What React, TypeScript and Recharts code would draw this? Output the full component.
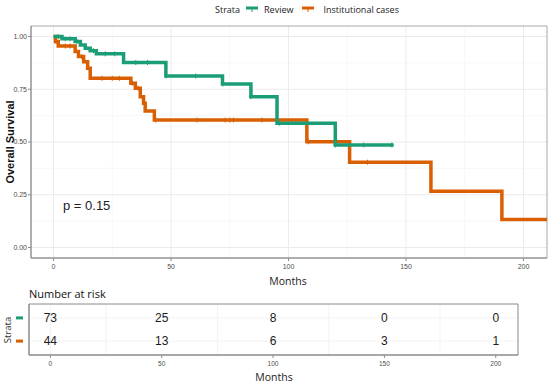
import React from "react";
import {
  ComposedChart,
  Line,
  Scatter,
  XAxis,
  YAxis,
  CartesianGrid,
  ReferenceArea,
} from "recharts";

const GREEN = "#1B9E77";
const ORANGE = "#D95F02";

// Kaplan-Meier steps (months, survival)
const reviewCurve = [
  { t: 0, s: 1 },
  { t: 3.6, s: 0.989 },
  { t: 9.2, s: 0.976 },
  { t: 11.4, s: 0.96 },
  { t: 13.5, s: 0.945 },
  { t: 15.6, s: 0.933 },
  { t: 18.2, s: 0.918 },
  { t: 29.8, s: 0.877 },
  { t: 47.8, s: 0.813 },
  { t: 71.9, s: 0.775 },
  { t: 84, s: 0.715 },
  { t: 95.1, s: 0.589 },
  { t: 119.9, s: 0.486 },
  { t: 144.7, s: 0.486 },
];

const institutionalCurve = [
  { t: 0, s: 1 },
  { t: 0.8, s: 0.977 },
  { t: 2, s: 0.955 },
  { t: 9.2, s: 0.929 },
  { t: 10.6, s: 0.905 },
  { t: 12.8, s: 0.881 },
  { t: 14.5, s: 0.85 },
  { t: 15.6, s: 0.802 },
  { t: 32.9, s: 0.779 },
  { t: 34.8, s: 0.755 },
  { t: 36.9, s: 0.715 },
  { t: 38.3, s: 0.684 },
  { t: 39, s: 0.647 },
  { t: 42.9, s: 0.604 },
  { t: 107.8, s: 0.501 },
  { t: 126, s: 0.404 },
  { t: 160.6, s: 0.267 },
  { t: 190.8, s: 0.133 },
  { t: 210, s: 0.133 },
];

// censored observations
const reviewCensor = [
  { t: 2, s: 1 },
  { t: 5, s: 0.989 },
  { t: 7, s: 0.989 },
  { t: 10, s: 0.976 },
  { t: 17, s: 0.933 },
  { t: 22, s: 0.918 },
  { t: 26, s: 0.918 },
  { t: 35, s: 0.877 },
  { t: 40, s: 0.877 },
  { t: 48, s: 0.813 },
  { t: 60.5, s: 0.813 },
  { t: 72, s: 0.775 },
  { t: 84, s: 0.715 },
  { t: 96, s: 0.589 },
  { t: 120, s: 0.486 },
  { t: 132, s: 0.486 },
  { t: 144, s: 0.486 },
];

const institutionalCensor = [
  { t: 1, s: 0.977 },
  { t: 5, s: 0.955 },
  { t: 7, s: 0.955 },
  { t: 12, s: 0.905 },
  { t: 20.6, s: 0.802 },
  { t: 25, s: 0.802 },
  { t: 28, s: 0.802 },
  { t: 33.5, s: 0.779 },
  { t: 36, s: 0.755 },
  { t: 43.5, s: 0.604 },
  { t: 61, s: 0.604 },
  { t: 73, s: 0.604 },
  { t: 75, s: 0.604 },
  { t: 76.6, s: 0.604 },
  { t: 88.7, s: 0.604 },
  { t: 108.5, s: 0.501 },
  { t: 133.6, s: 0.404 },
];

const riskTimes = [0, 50, 100, 150, 200];
const reviewAtRisk = [73, 25, 8, 0, 0];
const institutionalAtRisk = [44, 13, 6, 3, 1];

const xTicks = [0, 50, 100, 150, 200];
const xMinor = [25, 75, 125, 175];
const yTicks = [0, 0.25, 0.5, 0.75, 1];
const yMinor = [0.125, 0.375, 0.625, 0.875];
const X_DOMAIN: [number, number] = [-9.6, 210];

const reviewRisk = riskTimes.map((t, i) => ({ t, row: 2, n: reviewAtRisk[i] }));
const institutionalRisk = riskTimes.map((t, i) => ({ t, row: 1, n: institutionalAtRisk[i] }));

const tickStyle = { fontSize: 7, fill: "#4D4D4D", fontFamily: "Liberation Sans, Arial, sans-serif" };
const titleFont = "Open Sans, sans-serif";

const plus = (color: string) => (props: any) => {
  const { cx, cy } = props;
  if (cx == null || cy == null) return <g />;
  return (
    <g stroke={color} strokeWidth={1}>
      <line x1={cx - 2} x2={cx + 2} y1={cy} y2={cy} />
      <line x1={cx} x2={cx} y1={cy - 2.5} y2={cy + 2.5} />
    </g>
  );
};

const riskText = (props: any) => {
  const { cx, cy, payload } = props;
  return (
    <text
      x={cx}
      y={cy}
      dy="0.35em"
      textAnchor="middle"
      fontSize={12}
      fill="#1a1a1a"
      fontFamily="Liberation Sans, Arial, sans-serif"
    >
      {payload.n}
    </text>
  );
};

const strataTick = (props: any) => {
  const { y, payload } = props;
  const color = payload.value === 2 ? GREEN : ORANGE;
  return <rect x={16} y={y - 1.5} width={7} height={3} fill={color} />;
};

const LegendKey = ({ color }: { color: string }) => (
  <svg width={12} height={8} style={{ display: "inline-block", verticalAlign: "middle" }}>
    <line x1={0} x2={12} y1={3} y2={3} stroke={color} strokeWidth={3} />
    <line x1={6} x2={6} y1={2} y2={7} stroke={color} strokeWidth={1} />
  </svg>
);

export default function App() {
  return (
    <div
      style={{
        position: "absolute",
        left: 0,
        top: 0,
        width: 550,
        height: 386,
        background: "#fff",
        fontFamily: titleFont,
      }}
    >
      {/* legend */}
      <div
        style={{
          position: "absolute",
          top: 2,
          left: 215,
          fontSize: 9,
          color: "#222",
          display: "flex",
          alignItems: "center",
          whiteSpace: "nowrap",
          height: 14,
        }}
      >
        <span style={{ marginRight: 6 }}>Strata</span>
        <LegendKey color={GREEN} />
        <span style={{ marginLeft: 6, marginRight: 9 }}>Review</span>
        <LegendKey color={ORANGE} />
        <span style={{ marginLeft: 9 }}>Institutional cases</span>
      </div>

      <div style={{ position: "absolute", top: 0, left: 0 }}>
        <ComposedChart width={550} height={270} margin={{ top: 26, right: 3, left: 0, bottom: 0 }}>
          <CartesianGrid
            horizontalValues={yMinor}
            verticalValues={xMinor}
            stroke="#F4F4F4"
            strokeWidth={0.6}
          />
          <CartesianGrid
            horizontalValues={yTicks}
            verticalValues={xTicks}
            stroke="#EBEBEB"
            strokeWidth={1}
          />
          <XAxis
            type="number"
            dataKey="t"
            domain={X_DOMAIN}
            ticks={xTicks}
            allowDataOverflow
            height={12}
            tick={tickStyle}
            tickSize={3}
            tickMargin={3}
            axisLine={{ stroke: "#8a8a8a" }}
            tickLine={{ stroke: "#8a8a8a" }}
          />
          <YAxis
            type="number"
            dataKey="s"
            domain={[-0.05, 1.05]}
            ticks={yTicks}
            allowDataOverflow
            width={31}
            tick={tickStyle}
            tickSize={3}
            tickMargin={1}
            tickFormatter={(v: number) => v.toFixed(2)}
            axisLine={{ stroke: "#8a8a8a" }}
            tickLine={{ stroke: "#8a8a8a" }}
          />
          <ReferenceArea
            x1={X_DOMAIN[0]}
            x2={X_DOMAIN[1]}
            y1={-0.05}
            y2={1.05}
            fill="none"
            stroke="#a8a8a8"
            strokeWidth={1}
          />
          <Line
            data={institutionalCurve}
            dataKey="s"
            type="stepAfter"
            stroke={ORANGE}
            strokeWidth={3.5}
            dot={false}
            activeDot={false}
            isAnimationActive={false}
          />
          <Line
            data={reviewCurve}
            dataKey="s"
            type="stepAfter"
            stroke={GREEN}
            strokeWidth={3.5}
            dot={false}
            activeDot={false}
            isAnimationActive={false}
          />
          <Scatter data={institutionalCensor} dataKey="s" shape={plus(ORANGE)} isAnimationActive={false} />
          <Scatter data={reviewCensor} dataKey="s" shape={plus(GREEN)} isAnimationActive={false} />
        </ComposedChart>
      </div>

      {/* y title */}
      <div
        style={{
          position: "absolute",
          left: 10,
          top: 142,
          transform: "translate(-50%, -50%) rotate(-90deg)",
          fontSize: 11,
          fontWeight: "bold",
          fontFamily: "Liberation Sans, Arial, sans-serif",
          whiteSpace: "nowrap",
          color: "#111",
        }}
      >
        Overall Survival
      </div>

      <div
        style={{
          position: "absolute",
          left: 63,
          top: 198,
          fontSize: 13,
          fontFamily: "Liberation Sans, Arial, sans-serif",
          color: "#222",
        }}
      >
        p = 0.15
      </div>

      <div
        style={{
          position: "absolute",
          left: 288,
          top: 281,
          transform: "translate(-50%, -50%)",
          fontSize: 10.5,
          color: "#222",
        }}
      >
        Months
      </div>

      <div style={{ position: "absolute", left: 29, top: 286, fontSize: 11, color: "#111" }}>
        Number at risk
      </div>

      <div style={{ position: "absolute", top: 290, left: 0 }}>
        <ComposedChart width={550} height={80} margin={{ top: 14, right: 32, left: 0, bottom: 0 }}>
          <CartesianGrid
            horizontalValues={[1, 2]}
            verticalValues={[...xTicks, ...xMinor]}
            stroke="#F0F0F0"
            strokeWidth={0.8}
          />
          <XAxis
            type="number"
            dataKey="t"
            domain={X_DOMAIN}
            ticks={xTicks}
            allowDataOverflow
            height={15}
            tick={{ ...tickStyle, fontSize: 6.5 }}
            tickSize={3}
            tickMargin={3}
            axisLine={{ stroke: "#8a8a8a" }}
            tickLine={{ stroke: "#8a8a8a" }}
          />
          <YAxis
            type="number"
            dataKey="row"
            domain={[0.4, 2.6]}
            ticks={[1, 2]}
            width={29}
            tick={strataTick}
            tickLine={false}
            axisLine={{ stroke: "#8a8a8a" }}
          />
          <ReferenceArea
            x1={X_DOMAIN[0]}
            x2={X_DOMAIN[1]}
            y1={0.4}
            y2={2.6}
            fill="none"
            stroke="#8a8a8a"
            strokeWidth={1}
          />
          <Scatter data={reviewRisk} dataKey="row" shape={riskText} isAnimationActive={false} />
          <Scatter data={institutionalRisk} dataKey="row" shape={riskText} isAnimationActive={false} />
        </ComposedChart>
      </div>

      <div
        style={{
          position: "absolute",
          left: 7,
          top: 330,
          transform: "translate(-50%, -50%) rotate(-90deg)",
          fontSize: 9.5,
          color: "#333",
          whiteSpace: "nowrap",
        }}
      >
        Strata
      </div>

      <div
        style={{
          position: "absolute",
          left: 274,
          top: 377,
          transform: "translate(-50%, -50%)",
          fontSize: 10.5,
          color: "#222",
        }}
      >
        Months
      </div>
    </div>
  );
}
